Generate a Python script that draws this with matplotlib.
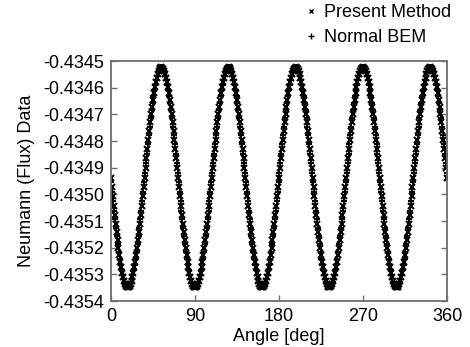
import numpy as np
import matplotlib
matplotlib.use('Agg')
import matplotlib.pyplot as plt
from matplotlib.ticker import FormatStrFormatter
from matplotlib.lines import Line2D

plt.rcParams['font.family'] = ['Liberation Sans', 'DejaVu Sans']
plt.rcParams['axes.unicode_minus'] = False

# --- DATA ---
# Present Method sampled every 1 deg, Normal BEM at the half degrees in between
present_angle = np.arange(0, 361, 1)
present_flux = [
    -0.434937, -0.434973, -0.435008, -0.435043, -0.435078, -0.435111, -0.435143, -0.435173, -0.435202, -0.435228, -0.435253, -0.435274,
    -0.435294, -0.435310, -0.435324, -0.435335, -0.435343, -0.435347, -0.435349, -0.435347, -0.435343, -0.435335, -0.435324, -0.435310,
    -0.435294, -0.435274, -0.435253, -0.435228, -0.435202, -0.435173, -0.435143, -0.435111, -0.435078, -0.435043, -0.435008, -0.434973,
    -0.434937, -0.434901, -0.434865, -0.434830, -0.434795, -0.434762, -0.434730, -0.434700, -0.434671, -0.434645, -0.434621, -0.434599,
    -0.434579, -0.434563, -0.434549, -0.434538, -0.434530, -0.434526, -0.434524, -0.434526, -0.434530, -0.434538, -0.434549, -0.434563,
    -0.434579, -0.434599, -0.434621, -0.434645, -0.434671, -0.434700, -0.434730, -0.434762, -0.434795, -0.434830, -0.434865, -0.434901,
    -0.434937, -0.434973, -0.435008, -0.435043, -0.435078, -0.435111, -0.435143, -0.435173, -0.435202, -0.435228, -0.435253, -0.435274,
    -0.435294, -0.435310, -0.435324, -0.435335, -0.435343, -0.435347, -0.435349, -0.435347, -0.435343, -0.435335, -0.435324, -0.435310,
    -0.435294, -0.435274, -0.435253, -0.435228, -0.435202, -0.435173, -0.435143, -0.435111, -0.435078, -0.435043, -0.435008, -0.434973,
    -0.434937, -0.434901, -0.434865, -0.434830, -0.434795, -0.434762, -0.434730, -0.434700, -0.434671, -0.434645, -0.434621, -0.434599,
    -0.434579, -0.434563, -0.434549, -0.434538, -0.434530, -0.434526, -0.434524, -0.434526, -0.434530, -0.434538, -0.434549, -0.434563,
    -0.434579, -0.434599, -0.434621, -0.434645, -0.434671, -0.434700, -0.434730, -0.434762, -0.434795, -0.434830, -0.434865, -0.434901,
    -0.434937, -0.434973, -0.435008, -0.435043, -0.435078, -0.435111, -0.435143, -0.435173, -0.435202, -0.435228, -0.435253, -0.435274,
    -0.435294, -0.435310, -0.435324, -0.435335, -0.435343, -0.435347, -0.435349, -0.435347, -0.435343, -0.435335, -0.435324, -0.435310,
    -0.435294, -0.435274, -0.435253, -0.435228, -0.435202, -0.435173, -0.435143, -0.435111, -0.435078, -0.435043, -0.435008, -0.434973,
    -0.434937, -0.434901, -0.434865, -0.434830, -0.434795, -0.434762, -0.434730, -0.434700, -0.434671, -0.434645, -0.434621, -0.434599,
    -0.434579, -0.434563, -0.434549, -0.434538, -0.434530, -0.434526, -0.434524, -0.434526, -0.434530, -0.434538, -0.434549, -0.434563,
    -0.434579, -0.434599, -0.434621, -0.434645, -0.434671, -0.434700, -0.434730, -0.434762, -0.434795, -0.434830, -0.434865, -0.434901,
    -0.434937, -0.434973, -0.435008, -0.435043, -0.435078, -0.435111, -0.435143, -0.435173, -0.435202, -0.435228, -0.435253, -0.435274,
    -0.435294, -0.435310, -0.435324, -0.435335, -0.435343, -0.435347, -0.435349, -0.435347, -0.435343, -0.435335, -0.435324, -0.435310,
    -0.435294, -0.435274, -0.435253, -0.435228, -0.435202, -0.435173, -0.435143, -0.435111, -0.435078, -0.435043, -0.435008, -0.434973,
    -0.434937, -0.434901, -0.434865, -0.434830, -0.434795, -0.434762, -0.434730, -0.434700, -0.434671, -0.434645, -0.434621, -0.434599,
    -0.434579, -0.434563, -0.434549, -0.434538, -0.434530, -0.434526, -0.434524, -0.434526, -0.434530, -0.434538, -0.434549, -0.434563,
    -0.434579, -0.434599, -0.434621, -0.434645, -0.434671, -0.434700, -0.434730, -0.434762, -0.434795, -0.434830, -0.434865, -0.434901,
    -0.434937, -0.434973, -0.435008, -0.435043, -0.435078, -0.435111, -0.435143, -0.435173, -0.435202, -0.435228, -0.435253, -0.435274,
    -0.435294, -0.435310, -0.435324, -0.435335, -0.435343, -0.435347, -0.435349, -0.435347, -0.435343, -0.435335, -0.435324, -0.435310,
    -0.435294, -0.435274, -0.435253, -0.435228, -0.435202, -0.435173, -0.435143, -0.435111, -0.435078, -0.435043, -0.435008, -0.434973,
    -0.434937, -0.434901, -0.434865, -0.434830, -0.434795, -0.434762, -0.434730, -0.434700, -0.434671, -0.434645, -0.434621, -0.434599,
    -0.434579, -0.434563, -0.434549, -0.434538, -0.434530, -0.434526, -0.434524, -0.434526, -0.434530, -0.434538, -0.434549, -0.434563,
    -0.434579, -0.434599, -0.434621, -0.434645, -0.434671, -0.434700, -0.434730, -0.434762, -0.434795, -0.434830, -0.434865, -0.434901,
    -0.434937,
]

bem_angle = np.arange(0.5, 360, 1)
bem_flux = [
    -0.434955, -0.434990, -0.435026, -0.435061, -0.435094, -0.435127, -0.435158, -0.435188, -0.435215, -0.435241, -0.435264, -0.435284,
    -0.435302, -0.435318, -0.435330, -0.435339, -0.435346, -0.435349, -0.435349, -0.435346, -0.435339, -0.435330, -0.435318, -0.435302,
    -0.435284, -0.435264, -0.435241, -0.435215, -0.435188, -0.435158, -0.435127, -0.435094, -0.435061, -0.435026, -0.434990, -0.434955,
    -0.434919, -0.434883, -0.434847, -0.434812, -0.434779, -0.434746, -0.434715, -0.434685, -0.434658, -0.434632, -0.434609, -0.434589,
    -0.434571, -0.434555, -0.434543, -0.434534, -0.434528, -0.434524, -0.434524, -0.434528, -0.434534, -0.434543, -0.434555, -0.434571,
    -0.434589, -0.434609, -0.434632, -0.434658, -0.434685, -0.434715, -0.434746, -0.434779, -0.434812, -0.434847, -0.434883, -0.434919,
    -0.434955, -0.434990, -0.435026, -0.435061, -0.435094, -0.435127, -0.435158, -0.435188, -0.435215, -0.435241, -0.435264, -0.435284,
    -0.435302, -0.435318, -0.435330, -0.435339, -0.435346, -0.435349, -0.435349, -0.435346, -0.435339, -0.435330, -0.435318, -0.435302,
    -0.435284, -0.435264, -0.435241, -0.435215, -0.435188, -0.435158, -0.435127, -0.435094, -0.435061, -0.435026, -0.434990, -0.434955,
    -0.434919, -0.434883, -0.434847, -0.434812, -0.434779, -0.434746, -0.434715, -0.434685, -0.434658, -0.434632, -0.434609, -0.434589,
    -0.434571, -0.434555, -0.434543, -0.434534, -0.434528, -0.434524, -0.434524, -0.434528, -0.434534, -0.434543, -0.434555, -0.434571,
    -0.434589, -0.434609, -0.434632, -0.434658, -0.434685, -0.434715, -0.434746, -0.434779, -0.434812, -0.434847, -0.434883, -0.434919,
    -0.434955, -0.434990, -0.435026, -0.435061, -0.435094, -0.435127, -0.435158, -0.435188, -0.435215, -0.435241, -0.435264, -0.435284,
    -0.435302, -0.435318, -0.435330, -0.435339, -0.435346, -0.435349, -0.435349, -0.435346, -0.435339, -0.435330, -0.435318, -0.435302,
    -0.435284, -0.435264, -0.435241, -0.435215, -0.435188, -0.435158, -0.435127, -0.435094, -0.435061, -0.435026, -0.434990, -0.434955,
    -0.434919, -0.434883, -0.434847, -0.434812, -0.434779, -0.434746, -0.434715, -0.434685, -0.434658, -0.434632, -0.434609, -0.434589,
    -0.434571, -0.434555, -0.434543, -0.434534, -0.434528, -0.434524, -0.434524, -0.434528, -0.434534, -0.434543, -0.434555, -0.434571,
    -0.434589, -0.434609, -0.434632, -0.434658, -0.434685, -0.434715, -0.434746, -0.434779, -0.434812, -0.434847, -0.434883, -0.434919,
    -0.434955, -0.434990, -0.435026, -0.435061, -0.435094, -0.435127, -0.435158, -0.435188, -0.435215, -0.435241, -0.435264, -0.435284,
    -0.435302, -0.435318, -0.435330, -0.435339, -0.435346, -0.435349, -0.435349, -0.435346, -0.435339, -0.435330, -0.435318, -0.435302,
    -0.435284, -0.435264, -0.435241, -0.435215, -0.435188, -0.435158, -0.435127, -0.435094, -0.435061, -0.435026, -0.434990, -0.434955,
    -0.434919, -0.434883, -0.434847, -0.434812, -0.434779, -0.434746, -0.434715, -0.434685, -0.434658, -0.434632, -0.434609, -0.434589,
    -0.434571, -0.434555, -0.434543, -0.434534, -0.434528, -0.434524, -0.434524, -0.434528, -0.434534, -0.434543, -0.434555, -0.434571,
    -0.434589, -0.434609, -0.434632, -0.434658, -0.434685, -0.434715, -0.434746, -0.434779, -0.434812, -0.434847, -0.434883, -0.434919,
    -0.434955, -0.434990, -0.435026, -0.435061, -0.435094, -0.435127, -0.435158, -0.435188, -0.435215, -0.435241, -0.435264, -0.435284,
    -0.435302, -0.435318, -0.435330, -0.435339, -0.435346, -0.435349, -0.435349, -0.435346, -0.435339, -0.435330, -0.435318, -0.435302,
    -0.435284, -0.435264, -0.435241, -0.435215, -0.435188, -0.435158, -0.435127, -0.435094, -0.435061, -0.435026, -0.434990, -0.434955,
    -0.434919, -0.434883, -0.434847, -0.434812, -0.434779, -0.434746, -0.434715, -0.434685, -0.434658, -0.434632, -0.434609, -0.434589,
    -0.434571, -0.434555, -0.434543, -0.434534, -0.434528, -0.434524, -0.434524, -0.434528, -0.434534, -0.434543, -0.434555, -0.434571,
    -0.434589, -0.434609, -0.434632, -0.434658, -0.434685, -0.434715, -0.434746, -0.434779, -0.434812, -0.434847, -0.434883, -0.434919,
]

x_ticks = [0, 90, 180, 270, 360]
y_ticks = [-0.4354, -0.4353, -0.4352, -0.4351, -0.4350, -0.4349, -0.4348, -0.4347, -0.4346, -0.4345]
labels = ['Present Method', 'Normal BEM']
# ----------------

FS = 13
SPINE = '#6e6e6e'

fig = plt.figure(figsize=(4.70, 3.47), dpi=100)
ax = fig.add_axes([111 / 470, 1 - 301 / 347, 336 / 470, 240 / 347])

ax.plot(present_angle, present_flux, ls='none', marker='x', ms=4.5, mew=1.5, color='black')
ax.plot(bem_angle, bem_flux, ls='none', marker='+', ms=5, mew=1.5, color='black')

ax.set_xlim(0, 360)
ax.set_ylim(-0.4354, -0.4345)
ax.set_xticks(x_ticks)
ax.set_yticks(y_ticks)
ax.yaxis.set_major_formatter(FormatStrFormatter('%.4f'))

for s in ax.spines.values():
    s.set_color(SPINE)
    s.set_linewidth(1.3)

ax.tick_params(direction='in', length=4, width=1, color=SPINE, labelsize=FS,
               right=True, top=False, pad=5)

ax.set_xlabel('Angle [deg]', fontsize=FS, labelpad=2)
ax.set_ylabel('Neumann (Flux) Data', fontsize=FS, labelpad=6)

handles = [
    Line2D([], [], ls='none', marker='x', ms=3.5, mew=1, color='black'),
    Line2D([], [], ls='none', marker='+', ms=4, mew=1, color='black'),
]
fig.legend(handles, labels, loc='upper left', bbox_to_anchor=(306 / 470, 1 - 4 / 347),
           frameon=False, fontsize=FS, handlelength=0.6, handletextpad=0.4,
           borderpad=0, borderaxespad=0, labelspacing=0.45)

fig.savefig('out.png', dpi=100)
